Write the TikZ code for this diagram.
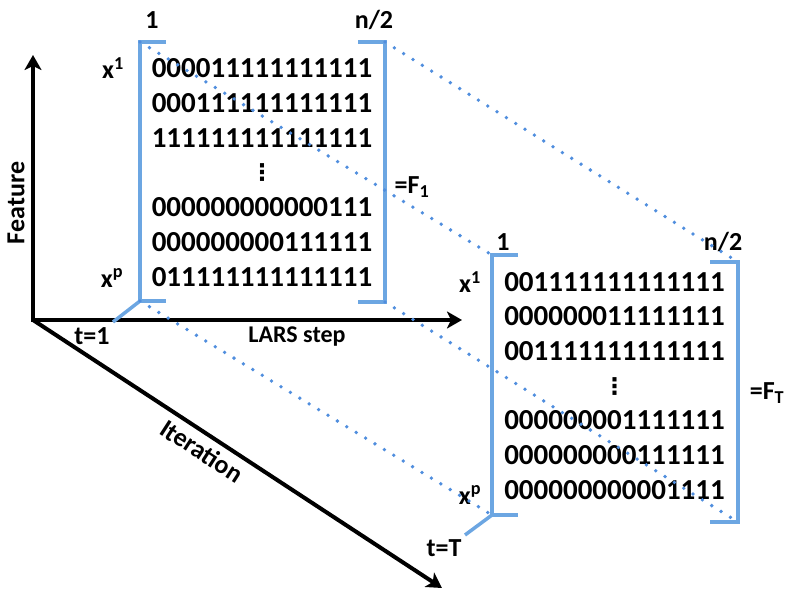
\documentclass[tikz,border=0pt]{standalone}
\usepackage{fontspec}
\setmainfont{Carlito}
\newfontfamily\symfont{DejaVu Sans}
\usetikzlibrary{arrows.meta}
\definecolor{brk}{RGB}{108,166,226}
\definecolor{dotc}{RGB}{80,142,222}

\begin{document}
\begin{tikzpicture}[x=1pt,y=-1pt,
  axis/.style={line width=4pt},
  brack/.style={brk,line width=3.5pt},
  link/.style={dotc,line width=3.8pt,line cap=round,dash pattern=on 0pt off 11pt},
  lab/.style={font=\fontsize{26}{30}\selectfont\bfseries,inner sep=0pt},
  digits/.style={font=\fontsize{29}{34}\selectfont\bfseries,inner sep=0pt,anchor=base},
  vdot/.style={font=\fontsize{23}{23}\selectfont\symfont\bfseries,inner sep=0pt}]
\useasboundingbox (0,0) rectangle (789,601);

% axes
\coordinate (o) at (33,320);
\coordinate (feat) at (33,55);
\coordinate (lars) at (462,320);
\coordinate (iter) at (442,588);
\draw[axis,{Stealth[length=15pt,width=17pt,inset=4pt]}-{Stealth[length=15pt,width=17pt,inset=4pt]}] (feat) -- (o) -- (lars);
\draw[axis,-{Stealth[length=15pt,width=17pt,inset=4pt]}] (o) -- (iter);
\node[lab,rotate=90] (featlab) at (16,203) {Feature};
\node[lab,font=\fontsize{24}{28}\selectfont\bfseries] (larslab) at (297,337) {LARS step};
\node[lab,rotate=-33] (iterlab) at (202,451) {Iteration};

% first matrix, t=1
\coordinate (m1tl) at (140,42);
\coordinate (m1bl) at (140,301);
\coordinate (m1tr) at (385,42);
\coordinate (m1br) at (385,302);
\coordinate (t1) at (113,322);
\foreach \r [count=\i] in {000011111111111,000111111111111,111111111111111,,000000000000111,000000000111111,011111111111111}
  \node[digits] (ra\i) at (262,{78+34.7*(\i-1)}) {\r};
\node[vdot] (va) at (262,173) {⋮};
\draw[brack] ([xshift=26pt]m1tl) -- (m1tl) -- (m1bl) -- ([xshift=26pt]m1bl);
\draw[brack] ([xshift=-27pt]m1tr) -- (m1tr) -- (m1br) -- ([xshift=-27pt]m1br);
\draw[brack] (m1bl) -- (t1);
\node[lab] (one1) at (152,20) {1};
\node[lab] (half1) at (374,20) {n/2};
\node[lab] (xa1) at (113,68) {x\textsuperscript{1}};
\node[lab] (xp1) at (112,278) {x\textsuperscript{p}};
\node[lab] (tone) at (92,336) {t=1};
\node[lab] (f1) at (412,187) {=F\textsubscript{1}};

% last matrix, t=T
\coordinate (m2tl) at (492,255);
\coordinate (m2bl) at (492,515);
\coordinate (m2tr) at (738,262);
\coordinate (m2br) at (738,522);
\coordinate (tT) at (465,535);
\foreach \r [count=\i] in {001111111111111,000000011111111,001111111111111,,000000001111111,000000000111111,000000000001111}
  \node[digits] (rb\i) at (614.5,{291+34.7*(\i-1)}) {\r};
\node[vdot] (vb) at (614.5,387) {⋮};
\draw[brack] ([xshift=26pt]m2tl) -- (m2tl) -- (m2bl) -- ([xshift=26pt]m2bl);
\draw[brack] ([xshift=-28pt]m2tr) -- (m2tr) -- (m2br) -- ([xshift=-28pt]m2br);
\draw[brack] (m2bl) -- (tT);
\node[lab] (one2) at (503,242) {1};
\node[lab] (half2) at (723,242) {n/2};
\node[lab] (xa2) at (470,282) {x\textsuperscript{1}};
\node[lab] (xp2) at (470,495) {x\textsuperscript{p}};
\node[lab] (tlast) at (444,548) {t=T};
\node[lab] (fT) at (767,393) {=F\textsubscript{T}};

% dotted links between corners
\draw[link] (m1tl) -- (m2tl);
\draw[link] (m1bl) -- (m2bl);
\draw[link] (m1tr) -- (m2tr);
\draw[link] (m1br) -- (m2br);
\end{tikzpicture}
\end{document}
